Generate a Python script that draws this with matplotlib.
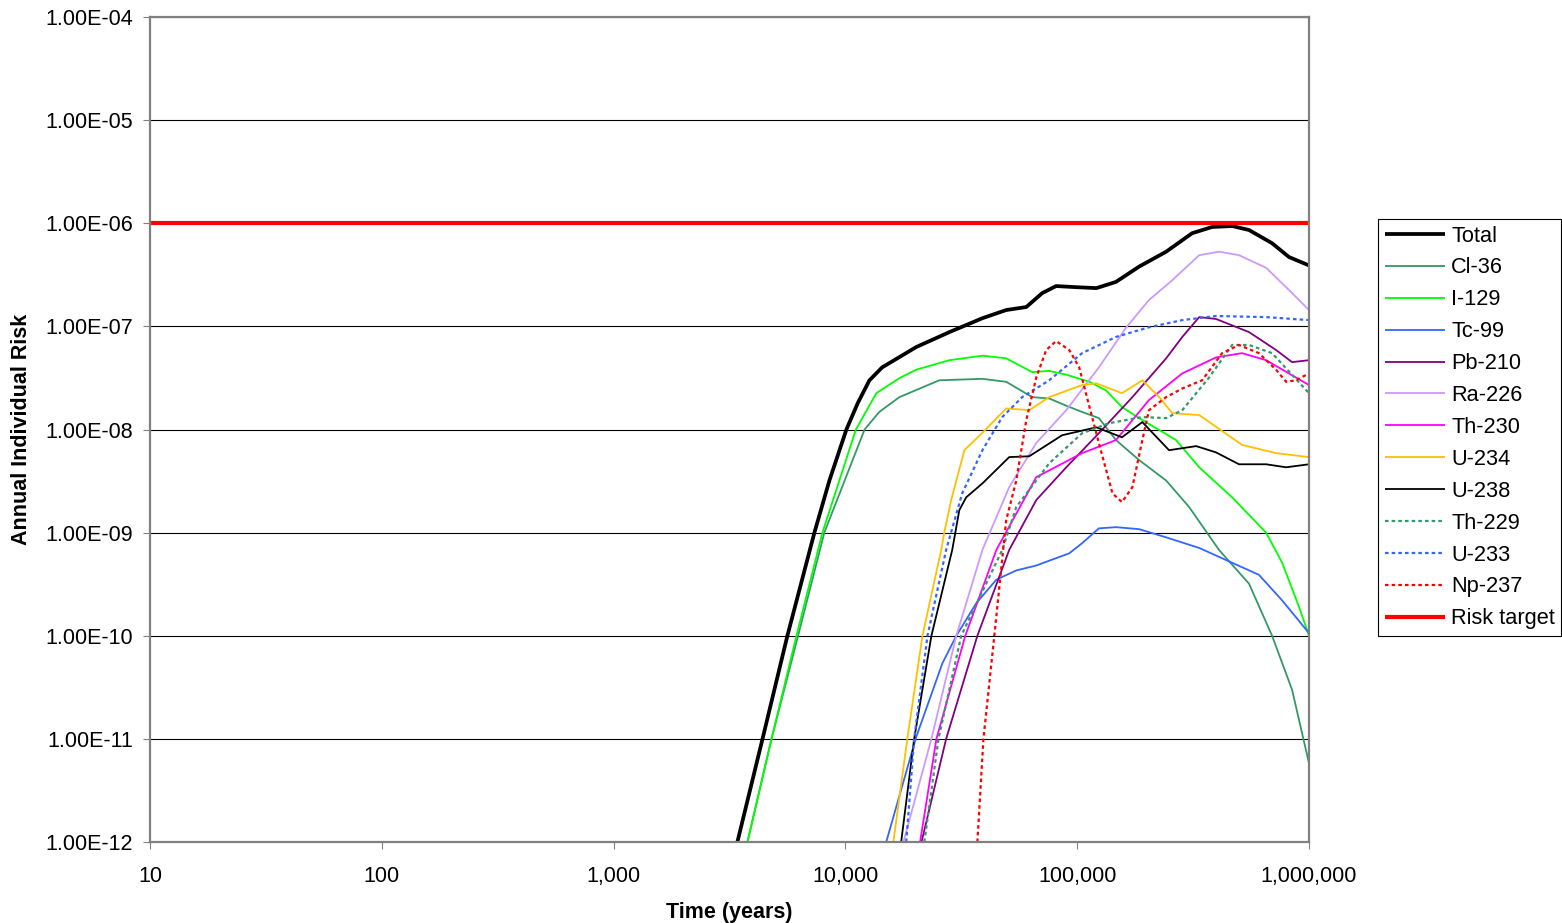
import matplotlib
matplotlib.use("Agg")
import matplotlib.pyplot as plt
from matplotlib.ticker import FixedLocator, FuncFormatter, NullLocator

plt.rcParams['font.family'] = ['Liberation Sans', 'DejaVu Sans']

# values (time in years, annual risk)
total_t = [3420, 4390, 5620, 7350, 8530, 10100, 11300, 12700, 14400, 20200, 28100, 39000,
           49400, 60300, 70600, 81100, 99000, 121000, 147000, 185000, 242000, 313000,
           382000, 466000, 551000, 693000, 820000, 1000000]
total_r = [1e-12, 1e-11, 1e-10, 1e-9, 3.2e-9, 1e-8, 1.8e-8, 3.0e-8, 4.0e-8, 6.3e-8, 8.8e-8, 1.2e-7,
           1.44e-7, 1.54e-7, 2.1e-7, 2.46e-7, 2.4e-7, 2.35e-7, 2.7e-7, 3.8e-7, 5.3e-7, 8.0e-7,
           9.2e-7, 9.4e-7, 8.6e-7, 6.4e-7, 4.7e-7, 3.9e-7]

cl36_t = [3780, 4800, 6250, 8110, 12100, 14000, 17100, 25400, 39000, 49400, 64000, 75700, 89700,
          105000, 124000, 147000, 185000, 242000, 304000, 409000, 551000, 693000, 845000, 1000000]
cl36_r = [1e-12, 1e-11, 1e-10, 1e-9, 1e-8, 1.48e-8, 2.06e-8, 3.0e-8, 3.1e-8, 2.9e-8, 2.06e-8, 2.0e-8,
          1.7e-8, 1.48e-8, 1.29e-8, 7.9e-9, 5.05e-9, 3.2e-9, 1.77e-9, 6.8e-10, 3.2e-10, 1e-10,
          3.0e-11, 5.8e-12]

i129_t = [3780, 4800, 6150, 7960, 11100, 13600, 17100, 20200, 28100, 39000, 49400, 64000, 75700,
          89700, 113000, 133000, 156000, 185000, 219000, 267000, 336000, 466000, 653000, 766000,
          906000, 1000000]
i129_r = [1e-12, 1e-11, 1e-10, 1e-9, 1e-8, 2.25e-8, 3.15e-8, 3.8e-8, 4.7e-8, 5.2e-8, 4.9e-8, 3.6e-8,
          3.7e-8, 3.4e-8, 2.9e-8, 2.4e-8, 1.65e-8, 1.29e-8, 1.03e-8, 7.9e-9, 4.3e-9, 2.2e-9, 1e-9,
          5.1e-10, 1.9e-10, 1e-10]

tc99_t = [15000, 20200, 26200, 30100, 36700, 44800, 54600, 66600, 92400, 105000, 124000, 147000,
          185000, 242000, 336000, 466000, 608000, 766000, 1000000]
tc99_r = [1e-12, 1.04e-11, 5.4e-11, 1e-10, 2.07e-10, 3.5e-10, 4.3e-10, 4.8e-10, 6.3e-10, 7.9e-10,
          1.1e-9, 1.13e-9, 1.08e-9, 9.0e-10, 7.1e-10, 5.1e-10, 3.9e-10, 2.2e-10, 1.06e-10]

pb210_t = [21300, 27200, 37100, 50900, 66600, 89700, 124000, 173000, 242000, 284000, 336000,
           397000, 551000, 721000, 845000, 1000000]
pb210_r = [1e-12, 1e-11, 1e-10, 6.8e-10, 2.07e-9, 4.3e-9, 9.2e-9, 2.06e-8, 4.9e-8, 7.9e-8, 1.23e-7,
           1.18e-7, 8.8e-8, 5.9e-8, 4.5e-8, 4.7e-8]

ra226_t = [17800, 23500, 30100, 39000, 50900, 66600, 89700, 124000, 163000, 204000, 257000,
           336000, 409000, 499000, 653000, 820000, 1000000]
ra226_r = [1e-12, 1e-11, 1e-10, 6.8e-10, 2.76e-9, 7.4e-9, 1.54e-8, 4.0e-8, 9.8e-8, 1.8e-7, 2.8e-7,
           4.9e-7, 5.3e-7, 4.9e-7, 3.7e-7, 2.25e-7, 1.44e-7]

th230_t = [21000, 24700, 32900, 44800, 66600, 105000, 147000, 204000, 284000, 397000, 514000,
           653000, 1000000]
th230_r = [1e-12, 1e-11, 1e-10, 6.8e-10, 3.45e-9, 5.9e-9, 7.9e-9, 1.93e-8, 3.5e-8, 5.0e-8, 5.5e-8,
           4.7e-8, 2.7e-8]

u234_t = [16100, 18500, 21500, 25900, 26700, 28600, 32600, 39000, 49400, 62100, 75700, 105000,
          121000, 156000, 191000, 226000, 257000, 336000, 514000, 721000, 1000000]
u234_r = [1e-12, 1e-11, 1e-10, 6.8e-10, 1e-9, 2.07e-9, 6.3e-9, 9.3e-9, 1.6e-8, 1.54e-8, 2.06e-8,
          2.7e-8, 2.8e-8, 2.25e-8, 3.0e-8, 2.06e-8, 1.44e-8, 1.38e-8, 7.1e-9, 5.9e-9, 5.4e-9]

u238_t = [17400, 19800, 23500, 28900, 31000, 33200, 39000, 50900, 62100, 86100, 121000, 156000,
          191000, 249000, 326000, 397000, 499000, 653000, 797000, 1000000]
u238_r = [1e-12, 1e-11, 1e-10, 6.8e-10, 1.65e-9, 2.2e-9, 3.0e-9, 5.4e-9, 5.5e-9, 8.8e-9, 1.05e-8,
          8.4e-9, 1.18e-8, 6.3e-9, 6.9e-9, 6.0e-9, 4.6e-9, 4.6e-9, 4.3e-9, 4.6e-9]

th229_t = [21900, 25200, 31600, 47500, 54600, 75700, 105000, 137000, 191000, 242000, 284000,
           371000, 466000, 551000, 693000, 1000000]
th229_r = [1e-12, 1e-11, 1e-10, 6.8e-10, 1.77e-9, 4.7e-9, 9.2e-9, 1.15e-8, 1.32e-8, 1.29e-8,
           1.54e-8, 3.2e-8, 6.6e-8, 6.6e-8, 5.5e-8, 2.25e-8]

u233_t = [18300, 19800, 22600, 27200, 31900, 39000, 47500, 57900, 75700, 105000, 147000, 204000,
          284000, 397000, 653000, 1000000]
u233_r = [1e-12, 1e-11, 1e-10, 6.8e-10, 2.4e-9, 6.3e-9, 1.32e-8, 2.06e-8, 3.0e-8, 5.5e-8, 7.9e-8,
          9.8e-8, 1.15e-7, 1.26e-7, 1.23e-7, 1.15e-7]

np237_t = [37100, 39400, 43900, 49400, 54600, 60300, 66600, 73500, 81100, 92400, 102000, 113000,
           124000, 142000, 156000, 173000, 191000, 204000, 242000, 284000, 346000, 422000, 499000,
           608000, 721000, 797000, 879000, 1000000]
np237_r = [1e-12, 1e-11, 1e-10, 1.32e-9, 3.2e-9, 1.23e-8, 3.2e-8, 5.9e-8, 7.2e-8, 5.9e-8, 4.0e-8,
           1.65e-8, 7.4e-9, 2.4e-9, 1.98e-9, 2.76e-9, 7.9e-9, 1.54e-8, 2.06e-8, 2.5e-8, 3.0e-8,
           5.5e-8, 6.6e-8, 5.5e-8, 3.8e-8, 2.9e-8, 3.0e-8, 3.5e-8]

target_t = [10, 1000000]
target_r = [1e-6, 1e-6]

x_ticks = [10, 100, 1000, 10000, 100000, 1000000]
y_ticks = [1e-12, 1e-11, 1e-10, 1e-9, 1e-8, 1e-7, 1e-6, 1e-5, 1e-4]

dot = (0, (1.6, 1.4))
series = [
    ("Total", total_t, total_r, "#000000", 2.7, "-"),
    ("Cl-36", cl36_t, cl36_r, "#339966", 1.3, "-"),
    ("I-129", i129_t, i129_r, "#00FF00", 1.3, "-"),
    ("Tc-99", tc99_t, tc99_r, "#3366FF", 1.3, "-"),
    ("Pb-210", pb210_t, pb210_r, "#800080", 1.3, "-"),
    ("Ra-226", ra226_t, ra226_r, "#CC99FF", 1.3, "-"),
    ("Th-230", th230_t, th230_r, "#FF00FF", 1.3, "-"),
    ("U-234", u234_t, u234_r, "#FFC000", 1.3, "-"),
    ("U-238", u238_t, u238_r, "#000000", 1.3, "-"),
    ("Th-229", th229_t, th229_r, "#339966", 1.6, dot),
    ("U-233", u233_t, u233_r, "#3366FF", 1.6, dot),
    ("Np-237", np237_t, np237_r, "#FF0000", 1.6, dot),
    ("Risk target", target_t, target_r, "#FF0000", 3.0, "-"),
]

fig = plt.figure(figsize=(15.62, 9.23), dpi=100)
ax = fig.add_axes([150 / 1562, 1 - 842 / 923, (1309 - 150) / 1562, (842 - 17) / 923])

for name, t, r, col, lw, ls in series:
    ax.plot(t, r, color=col, lw=lw, linestyle=ls, label=name, solid_capstyle='butt',
            solid_joinstyle='round')

ax.set_xscale('log')
ax.set_yscale('log')
ax.set_xlim(10, 1e6)
ax.set_ylim(1e-12, 1e-4)

ax.xaxis.set_major_locator(FixedLocator(x_ticks))
ax.xaxis.set_minor_locator(NullLocator())
ax.xaxis.set_major_formatter(FuncFormatter(lambda v, p: f"{int(round(v)):,}"))
ax.yaxis.set_major_locator(FixedLocator(y_ticks))
ax.yaxis.set_minor_locator(NullLocator())
ax.yaxis.set_major_formatter(FuncFormatter(lambda v, p: "%.2E" % v))

ax.grid(axis='y', color='black', lw=0.8)
ax.set_axisbelow(True)
for s in ax.spines.values():
    s.set_color('#808080')
    s.set_linewidth(1.6)

ax.tick_params(axis='both', direction='out', length=5, width=0.8, color='#808080',
               labelsize=15.5)
ax.tick_params(axis='x', pad=12)
ax.tick_params(axis='y', pad=7)

ax.set_xlabel("Time (years)", fontsize=15.5, fontweight='bold', labelpad=11)
ax.set_ylabel("Annual Individual Risk", fontsize=15.5, fontweight='bold', labelpad=10)

leg = fig.legend(loc='upper left', bbox_to_anchor=(1378 / 1562, 1 - 219 / 923),
                 fontsize=15.7, frameon=True, fancybox=False, framealpha=1,
                 edgecolor='black', borderpad=0.3, labelspacing=0.5,
                 handlelength=2.75, handletextpad=0.3, borderaxespad=0)
leg.get_frame().set_linewidth(0.8)

fig.savefig("out.png", dpi=100)
